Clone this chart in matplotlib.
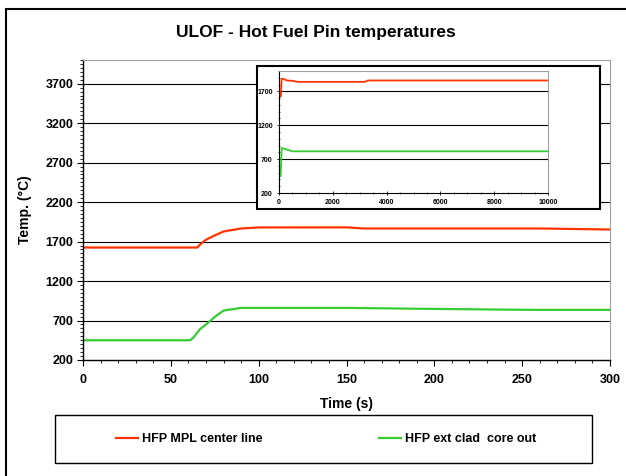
import matplotlib.pyplot as plt
from matplotlib.patches import Rectangle
from matplotlib.ticker import MultipleLocator

plt.rcParams['font.family'] = ['Liberation Sans', 'DejaVu Sans']
plt.rcParams['font.weight'] = 'bold'

# main chart data (first 300 s)
time_s = [0, 60, 65, 67.5, 70, 75, 80, 90, 100, 150, 160, 200, 260, 300]
t_center = [1625, 1625, 1625, 1680, 1723, 1778, 1828, 1866, 1879, 1880, 1866, 1866, 1866, 1853]
time_c = [0, 61, 63, 66.6, 70.4, 75, 80, 90, 100, 150, 200, 250, 260, 300]
t_clad = [450, 450, 488, 590, 657, 745, 826, 860, 860, 860, 847, 836, 835, 835]

# inset data (long transient, 0-10000 s)
time_long = [0, 60, 65, 100, 150, 300, 500, 700, 3200, 3300, 10000]
center_long = [1625, 1625, 1625, 1885, 1885, 1860, 1855, 1840, 1840, 1860, 1860]
time_long_c = [0, 60, 62, 100, 150, 300, 500, 10000]
clad_long = [450, 450, 470, 865, 860, 840, 815, 815]

red = '#ff3300'
green = '#33cc33'
W, H = 626, 476

fig = plt.figure(figsize=(6.26, 4.76), dpi=100)

def fbox(x0, y0, x1, y1):
    # pixel box -> figure fraction [left, bottom, width, height]
    return [x0 / W, 1 - y1 / H, (x1 - x0) / W, (y1 - y0) / H]

# outer chart border
fig.add_artist(Rectangle((6 / W, -0.1), 1.2, 1 - 9 / H + 0.1, transform=fig.transFigure,
                         fill=False, edgecolor='black', lw=1.5, clip_on=False))

fig.text(316 / W, 1 - 33 / H, 'ULOF - Hot Fuel Pin temperatures', ha='center', va='center',
         fontsize=12.5, fontweight='bold')

# main axes
ax = fig.add_axes(fbox(83, 60, 610, 360))
ax.plot(time_s, t_center, color=red, lw=1.6, label='HFP MPL center line')
ax.plot(time_c, t_clad, color=green, lw=1.6, label='HFP ext clad  core out')
ax.set_xlim(0, 300)
ax.set_ylim(200, 4000)
ax.set_yticks(range(200, 3701, 500))
ax.xaxis.set_major_locator(MultipleLocator(50))
ax.xaxis.set_minor_locator(MultipleLocator(10))
ax.yaxis.set_minor_locator(MultipleLocator(50))
for v in range(700, 3701, 500):
    ax.axhline(v, color='black', lw=0.8, zorder=0)
ax.spines['top'].set_color('#a0a0a0')
ax.spines['right'].set_color('#a0a0a0')
ax.spines['left'].set_linewidth(1.0)
ax.spines['bottom'].set_linewidth(1.0)
ax.tick_params(which='major', direction='out', length=4, width=0.8, labelsize=9, pad=3)
ax.tick_params(which='minor', direction='out', length=2.5, width=0.6)
ax.tick_params(axis='x', pad=6)
ax.set_xlabel('Time (s)', fontsize=10, fontweight='bold')
ax.set_ylabel('Temp. (°C)', fontsize=10, fontweight='bold')
ax.xaxis.set_label_coords(0.5, -0.123)
ax.yaxis.set_label_coords(-0.097, 0.5)

# inset frame
fig.add_artist(Rectangle((257 / W, 1 - 209 / H), 343 / W, 143 / H, transform=fig.transFigure,
                         facecolor='white', edgecolor='black', lw=1.5, zorder=3))

ax2 = fig.add_axes(fbox(279, 71, 548, 193), zorder=4)
ax2.plot(time_long, center_long, color=red, lw=1.3)
ax2.plot(time_long_c, clad_long, color=green, lw=1.3)
ax2.set_xlim(0, 10000)
ax2.set_ylim(200, 2000)
ax2.set_yticks([200, 700, 1200, 1700])
ax2.xaxis.set_major_locator(MultipleLocator(2000))
ax2.xaxis.set_minor_locator(MultipleLocator(500))
ax2.yaxis.set_minor_locator(MultipleLocator(100))
for v in [700, 1200, 1700]:
    ax2.axhline(v, color='black', lw=0.8, zorder=0)
ax2.spines['top'].set_color('#a0a0a0')
ax2.spines['right'].set_color('#a0a0a0')
ax2.tick_params(which='major', direction='inout', length=3, width=0.6, labelsize=5, pad=3)
ax2.tick_params(which='minor', direction='inout', length=2, width=0.5)

# legend
fig.add_artist(Rectangle((55 / W, 1 - 463 / H), 537 / W, 48 / H, transform=fig.transFigure,
                         fill=False, edgecolor='black', lw=1.0))
fig.legend(loc='center', bbox_to_anchor=(326 / W, 1 - 439 / H), ncol=2, frameon=False,
           prop={'size': 9, 'weight': 'bold'}, handlelength=1.8, handletextpad=0.3,
           columnspacing=9.3)

fig.savefig('out.png', dpi=100)
